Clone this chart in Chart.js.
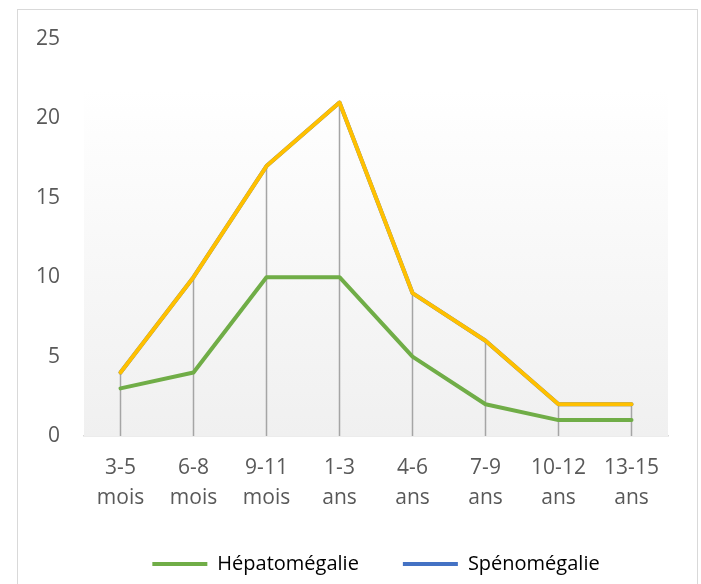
<!DOCTYPE html>
<html>
<head>
    <meta charset="utf-8">
    <script src="https://cdn.jsdelivr.net/npm/chart.js"></script>
    <style>
        body {
            margin: 0;
            background: #ffffff;
            overflow: hidden;
        }

        .frame {
            position: absolute;
            left: 17px;
            top: 9px;
            width: 679px;
            height: 620px;
            border: 1px solid #d9d9d9;
        }

        .chart-box {
            position: absolute;
            left: 0;
            top: 0;
            width: 701px;
            height: 584px;
        }
    </style>
</head>
<body>
    <div class="frame"></div>
    <div class="chart-box">
        <canvas id="ageChart"></canvas>
    </div>

    <script>
        // tranches d'age
        const categories = [
            ['3-5', 'mois'], ['6-8', 'mois'], ['9-11', 'mois'], ['1-3', 'ans'],
            ['4-6', 'ans'], ['7-9', 'ans'], ['10-12', 'ans'], ['13-15', 'ans']
        ];
        const hepatomegalie = [3, 4, 10, 10, 5, 2, 1, 1];
        const splenomegalie = [4, 10, 17, 21, 9, 6, 2, 2];
        // yellow series drawn on top of the blue one (not in legend)
        const yellowSeries = [4, 10, 17, 21, 9, 6, 2, 2];
        const yTicks = [0, 5, 10, 15, 20, 25];

        const FONT = "'Open Sans', 'Noto Sans', sans-serif";

        // plot area shading + drop lines
        const plotDecor = {
            id: 'plotDecor',
            beforeDatasetsDraw(chart) {
                const ctx = chart.ctx;
                const area = chart.chartArea;
                const top = area.top + 51;
                const grad = ctx.createLinearGradient(0, top, 0, area.bottom);
                grad.addColorStop(0, '#ffffff');
                grad.addColorStop(1, '#f0f0f0');
                ctx.save();
                ctx.fillStyle = grad;
                ctx.fillRect(area.left, top, area.right - area.left, area.bottom - top);

                // vertical drop lines from the highest point to the axis
                const metas = chart.getSortedVisibleDatasetMetas();
                ctx.strokeStyle = '#a5a5a5';
                ctx.lineWidth = 1.5;
                categories.forEach((c, i) => {
                    let minY = area.bottom;
                    let x = null;
                    metas.forEach(meta => {
                        const pt = meta.data[i];
                        if (pt) {
                            x = pt.x;
                            minY = Math.min(minY, pt.y);
                        }
                    });
                    if (x === null) return;
                    ctx.beginPath();
                    ctx.moveTo(x, minY);
                    ctx.lineTo(x, area.bottom);
                    ctx.stroke();
                });
                ctx.restore();
            }
        };

        const lineStyle = {
            borderWidth: 4,
            pointRadius: 0,
            pointHoverRadius: 0,
            pointStyle: 'line',
            borderJoinStyle: 'round',
            borderCapStyle: 'round',
            tension: 0
        };

        new Chart(document.getElementById('ageChart'), {
            type: 'line',
            data: {
                labels: categories,
                datasets: [
                    Object.assign({
                        label: 'Hépatomégalie',
                        data: hepatomegalie,
                        borderColor: '#70ad47',
                        backgroundColor: '#70ad47',
                        order: 0
                    }, lineStyle),
                    Object.assign({
                        label: 'Spénomégalie',
                        data: splenomegalie,
                        borderColor: '#4472c4',
                        backgroundColor: '#4472c4',
                        order: 1
                    }, lineStyle),
                    Object.assign({
                        label: 'hidden',
                        data: yellowSeries,
                        borderColor: '#ffc000',
                        backgroundColor: '#ffc000',
                        order: -1
                    }, lineStyle)
                ]
            },
            options: {
                responsive: true,
                maintainAspectRatio: false,
                animation: false,
                layout: {
                    padding: { top: 39, right: 33, left: 0, bottom: 0 }
                },
                plugins: {
                    tooltip: { enabled: false },
                    legend: {
                        position: 'bottom',
                        fullSize: false,
                        labels: {
                            filter: item => item.text !== 'hidden',
                            usePointStyle: true,
                            pointStyleWidth: 55,
                            boxWidth: 55,
                            boxHeight: 4,
                            padding: 44,
                            color: '#000000',
                            font: { family: FONT, size: 20 }
                        }
                    }
                },
                scales: {
                    x: {
                        offset: true,
                        grid: { display: false, drawTicks: false },
                        border: { display: true, color: '#d9d9d9', width: 1.5 },
                        ticks: {
                            color: '#595959',
                            padding: 17,
                            maxRotation: 0,
                            autoSkip: false,
                            font: { family: FONT, size: 21, lineHeight: 1.43 }
                        },
                        afterFit(scale) { scale.height = 74; }
                    },
                    y: {
                        min: 0,
                        max: 25,
                        afterBuildTicks(scale) {
                            scale.ticks = yTicks.map(v => ({ value: v }));
                        },
                        grid: { display: false, drawTicks: false },
                        border: { display: false },
                        ticks: {
                            color: '#595959',
                            padding: 24,
                            font: { family: FONT, size: 21 }
                        },
                        afterFit(scale) { scale.width = 84; }
                    }
                }
            },
            plugins: [plotDecor]
        });
    </script>
</body>
</html>
